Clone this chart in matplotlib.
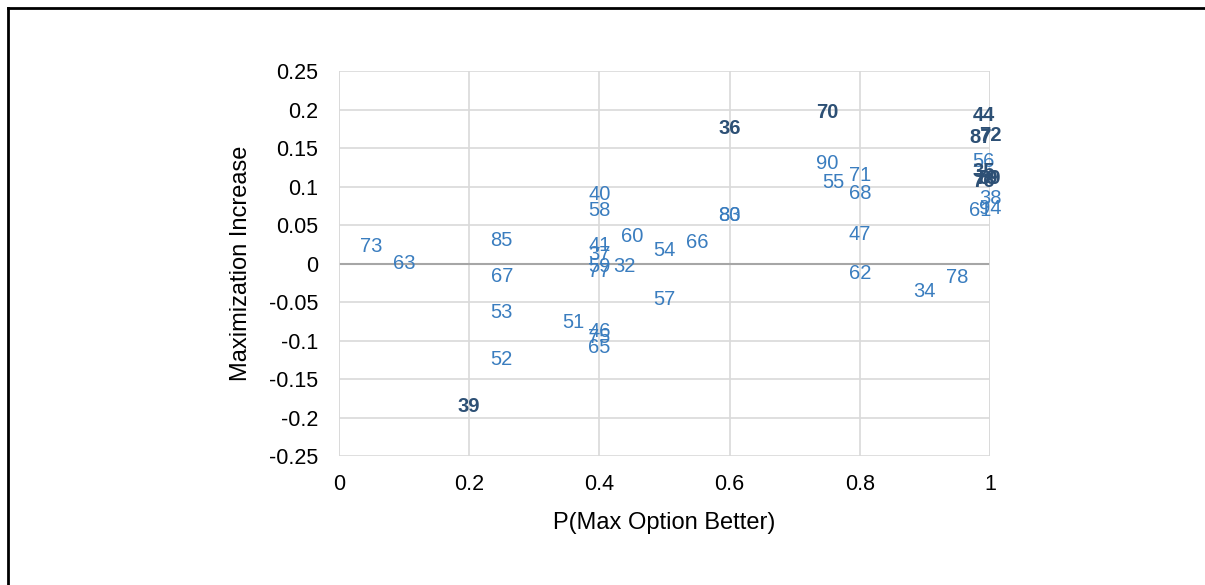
import numpy as np
import matplotlib.pyplot as plt
from matplotlib.lines import Line2D

#%% Data
# light labels (single points)
x_vals = [0.05, 0.1, 0.25, 0.25, 0.25, 0.25, 0.36, 0.4, 0.4, 0.4, 0.4, 0.4,
          0.4, 0.4, 0.4, 0.4, 0.438, 0.45, 0.5, 0.5, 0.55, 0.6, 0.6, 0.75,
          0.76, 0.8, 0.8, 0.8, 0.8, 0.9, 0.95, 0.99, 1.0, 0.985, 1.0]
y_vals = [0.022, 0.0, 0.03, -0.017, -0.064, -0.125, -0.077, -0.088, -0.096, -0.109, 0.09, 0.069,
          0.023, 0.012, -0.004, -0.01, -0.004, 0.035, 0.017, -0.047, 0.027, 0.062, 0.062, 0.13,
          0.105, 0.114, 0.091, 0.038, -0.013, -0.036, -0.018, 0.132, 0.084, 0.069, 0.071]
labels = ['73', '63', '85', '67', '53', '52', '51', '46', '75', '65', '40', '58',
          '41', '37', '59', '77', '32', '60', '54', '57', '66', '80', '83', '90',
          '55', '71', '68', '47', '62', '34', '78', '56', '38', '61', '94']

# dark labels (several points stacked on top of each other)
dark_x = [0.2, 0.6, 0.75, 0.99, 0.985, 1.0, 0.99, 0.99, 0.995, 1.0]
dark_y = [-0.186, 0.175, 0.196, 0.192, 0.164, 0.166, 0.12, 0.107, 0.11, 0.11]
dark_labels = ['39', '36', '70', '44', '87', '72', '35', '76', '79', '89']

x_ticks = [0, 0.2, 0.4, 0.6, 0.8, 1]
y_ticks = [-0.25, -0.2, -0.15, -0.1, -0.05, 0, 0.05, 0.1, 0.15, 0.2, 0.25]

#%% Plot
plt.rcParams['font.family'] = ['Liberation Sans', 'DejaVu Sans']
fig = plt.figure(figsize=(12.05, 5.85), dpi=100)
ax = fig.add_axes([0.2813, 0.2205, 0.5403, 0.6581])

for x, y, s in zip(x_vals, y_vals, labels):
    ax.text(x, y, s, color='#3a7dbf', fontsize=14.5, ha='center', va='center', clip_on=False)
for x, y, s in zip(dark_x, dark_y, dark_labels):
    ax.text(x, y, s, color='#2d5075', fontsize=14.5, fontweight='bold',
            ha='center', va='center', clip_on=False)

ax.set_xlim(0, 1)
ax.set_ylim(-0.25, 0.25)
ax.set_xticks(x_ticks)
ax.set_yticks(y_ticks)
ax.set_xticklabels([f'{v:g}' for v in x_ticks])
ax.set_yticklabels([f'{v:g}' for v in y_ticks])
ax.tick_params(length=0, labelsize=15.5)
ax.tick_params(axis='y', pad=15)
ax.tick_params(axis='x', pad=13)
ax.grid(True, color='#d9d9d9', linewidth=1.2)
ax.set_axisbelow(True)
for sp in ax.spines.values():
    sp.set_visible(False)
ax.axhline(0, color='#a6a6a6', linewidth=1.5)
ax.axvline(0, color='#d9d9d9', linewidth=1.2)
ax.axvline(1, color='#d9d9d9', linewidth=1.2)

ax.set_xlabel('P(Max Option Better)', fontsize=17, labelpad=12)
ax.set_ylabel('Maximization Increase', fontsize=17, labelpad=12)

# chart area border (top and left visible)
fig.add_artist(Line2D([0.0066, 0.0066], [0, 0.9863], color='black', linewidth=2,
                      transform=fig.transFigure))
fig.add_artist(Line2D([0.0066, 1.0], [0.9863, 0.9863], color='black', linewidth=2,
                      transform=fig.transFigure))

fig.savefig('out.png', dpi=100)
